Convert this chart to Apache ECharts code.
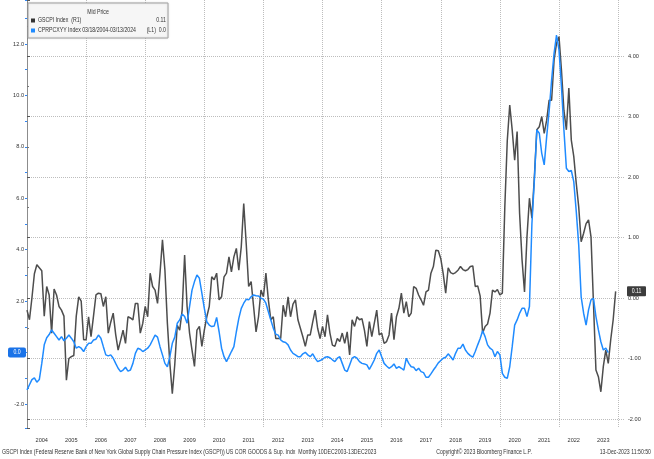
<!DOCTYPE html>
<html>
<head>
<meta charset="utf-8">
<script src="https://cdn.jsdelivr.net/npm/echarts@6/dist/echarts.min.js"></script>
<style>
  html, body { margin: 0; padding: 0; background: #fff; }
  #chart { width: 654px; height: 459px; }
</style>
</head>
<body>
<div id="chart"></div>
<script>
// monthly points, index 0 = Dec 2003 (month end)
const gscpi = [
  -0.20, -0.36, 0.00, 0.40, 0.55, 0.50, 0.45, -0.30, 0.19, 0.05,
  -0.58, 0.15, 0.05, -0.14, -0.20, -0.30, -1.36, -1.00, -0.97, -0.95,
  -0.30, 0.02, -0.05, -0.69, -0.69, -0.31, -0.64, -0.30, 0.05, 0.08,
  0.07, -0.14, 0.02, -0.58, -0.40, -0.25, -0.60, -0.86, -0.70, -0.53,
  -0.75, -0.31, -0.33, -0.36, -0.09, -0.09, -0.58, -0.42, -0.14, -0.31,
  0.41, 0.19, 0.13, -0.09, 0.41, 0.96, 0.46, -0.42, -1.08, -1.58,
  -1.10, -0.45, -0.53, -0.20, 0.71, -0.14, -0.58, -0.86, -1.13, -0.53,
  -0.47, -0.80, -0.53, -0.31, -0.14, 0.35, 0.30, 0.41, -0.03, 0.02,
  0.35, 0.41, 0.68, 0.43, 0.68, 0.82, 0.46, 0.85, 1.56, 0.90,
  0.19, 0.27, -0.14, -0.56, -0.31, 0.13, 0.02, 0.41, -0.03, -0.36,
  -0.31, -0.67, -0.67, -0.67, -0.12, -0.31, 0.02, -0.31, -0.10, -0.03,
  -0.36, -0.50, -0.64, -0.80, -0.61, -0.61, -0.40, -0.20, -0.50, -0.67,
  -0.47, -0.64, -0.28, -0.58, -0.78, -0.80, -0.67, -0.72, -0.58, -0.75,
  -0.56, -0.94, -0.36, -0.47, -0.31, -0.36, -0.34, -0.53, -0.80, -0.39,
  -0.64, -0.42, -0.20, -0.61, -0.58, -0.75, -0.72, -0.61, -0.25, -0.69,
  -0.31, -0.17, 0.08, -0.25, -0.06, -0.31, -0.25, 0.19, 0.16, 0.05,
  -0.03, -0.12, 0.10, 0.13, 0.41, 0.52, 0.79, 0.78, 0.65, 0.40,
  0.08, 0.50, 0.42, 0.40, 0.42, 0.46, 0.52, 0.47, 0.45, 0.47,
  0.52, 0.53, 0.19, 0.20, 0.03, -0.58, -0.47, -0.43, -0.25, 0.13,
  0.10, 0.14, 0.05, 0.08, 1.50, 2.60, 3.19, 2.78, 2.28, 2.75,
  1.40, 0.63, 0.10, 1.01, 1.65, 1.32, 2.00, 2.78, 2.83, 3.00,
  2.72, 2.94, 3.27, 3.27, 3.93, 4.21, 4.32, 3.77, 3.10, 2.78,
  3.47, 2.61, 2.34, 1.90, 1.51, 0.93, 1.07, 1.23, 1.29, 1.01,
  -0.09, -1.19, -1.30, -1.55, -1.13, -0.86, -1.08, -0.69, -0.36, 0.11
];

// core goods CPI YoY, same month grid (series starts 3 months later on screen)
const coreGoods = [
  -1.45, -1.25, -1.05, -0.98, -1.15, -1.05, -0.42, 0.30, 0.58, 0.70,
  0.88, 0.75, 0.62, 0.49, 0.62, 0.46, 0.56, 0.68, 0.56, 0.42,
  0.17, 0.23, 0.17, 0.04, 0.23, 0.36, 0.36, 0.49, 0.52, 0.68,
  0.56, 0.23, -0.09, -0.13, -0.09, -0.22, -0.42, -0.61, -0.74, -0.68,
  -0.57, -0.72, -0.68, -0.42, -0.03, 0.17, 0.13, 0.04, 0.10, 0.17,
  0.30, 0.49, 0.68, 0.60, 0.23, -0.09, -0.42, -0.55, -0.16, 0.36,
  0.60, 1.14, 1.27, 1.50, 1.40, 1.14, 1.79, 2.43, 2.76, 3.02,
  2.89, 2.31, 1.72, 1.20, 1.07, 1.01, 1.03, 1.37, 0.81, 0.17,
  -0.16, -0.35, -0.16, 0.04, 0.23, 0.81, 1.33, 1.72, 1.92, 2.07,
  2.05, 2.17, 2.24, 2.21, 2.20, 2.11, 2.08, 1.92, 1.59, 1.27,
  0.95, 0.71, 0.68, 0.49, 0.42, 0.39, 0.30, 0.10, -0.03, -0.09,
  -0.16, -0.16, -0.05, 0.01, -0.09, -0.16, -0.05, -0.22, -0.35, -0.31,
  -0.26, -0.18, -0.16, -0.20, -0.28, -0.35, -0.22, -0.16, -0.42, -0.68,
  -0.74, -0.48, -0.22, -0.16, -0.22, -0.35, -0.42, -0.44, -0.48, -0.65,
  -0.48, -0.29, -0.03, 0.10, -0.16, -0.42, -0.52, -0.61, -0.55, -0.44,
  -0.61, -0.55, -0.61, -0.68, -0.22, -0.42, -0.55, -0.57, -0.70, -0.61,
  -0.74, -0.78, -0.96, -0.96, -0.83, -0.68, -0.55, -0.40, -0.31, -0.22,
  -0.18, -0.05, -0.16, -0.29, -0.03, 0.17, 0.17, 0.33, 0.10, -0.03,
  -0.12, -0.18, 0.04, 0.30, 0.55, 0.85, 0.62, 0.30, 0.17, 0.10,
  -0.16, 0.04, -0.09, -0.81, -0.96, -1.00, -0.55, 0.23, 1.07, 1.27,
  1.53, 1.72, 1.72, 1.40, 1.79, 5.00, 6.70, 8.66, 8.53, 7.75,
  7.30, 8.40, 9.40, 10.60, 11.64, 12.35, 11.77, 10.34, 8.66, 7.17,
  7.04, 7.08, 6.65, 5.50, 4.20, 2.17, 1.53, 1.07, 1.66, 2.05,
  2.11, 1.40, 0.88, 0.42, 0.10, 0.17, 0.00
];

const yearLabels = ['2004', '2005', '2006', '2007', '2008', '2009', '2010', '2011', '2012', '2013',
  '2014', '2015', '2016', '2017', '2018', '2019', '2020', '2021', '2022', '2023'];

const lastGscpi = '0.11';
const lastCore = '0.0';

const FONT = "'Liberation Sans', Arial, sans-serif";
const BLUE = '#1f8bff';
const GREY = '#4d4d4d';
const NARROW = 0.8; // terminal font is condensed

// axis extents chosen so the plot fills the frame like the terminal screen
const X_MAX = 242.8;
const L_MIN = -2.933, L_MAX = 13.711;
const R_MIN = -2.149, R_MAX = 4.926;

const chart = echarts.init(document.getElementById('chart'), null, { renderer: 'canvas' });

const isMult = (v, step) => {
  const r = Math.round(v / step);
  return Math.abs(v - r * step) < 1e-6;
};

chart.setOption({
  animation: false,
  textStyle: { fontFamily: FONT },
  grid: { left: 27, right: 29, top: 0, bottom: 31 },
  xAxis: [
    {
      type: 'value', min: 0, max: X_MAX, interval: 12,
      axisLine: { show: false }, axisTick: { show: false }, splitLine: { show: false },
      axisLabel: {
        fontFamily: FONT, fontSize: 5.6, color: '#333', margin: 9,
        padding: [0, 0, 0, 29.5],
        formatter: (v) => (isMult(v, 12) && yearLabels[Math.round(v / 12)]) || ''
      }
    },
    {
      type: 'value', min: 0, max: X_MAX, interval: 24,
      axisLine: { show: false }, axisTick: { show: false }, axisLabel: { show: false },
      splitLine: {
        show: true, showMinLine: false, showMaxLine: false,
        lineStyle: { type: 'dotted', color: '#bdbdbd', width: 1 }
      }
    }
  ],
  yAxis: [
    {
      type: 'value', position: 'left', min: L_MIN, max: L_MAX, splitNumber: 8,
      axisLine: { show: true, lineStyle: { color: '#a9c9f5', width: 1 } },
      axisTick: { show: true, length: 2, lineStyle: { color: '#2f86f6' } },
      minorTick: { show: true, splitNumber: 2, length: 2, lineStyle: { color: '#2f86f6' } },
      splitLine: { show: false },
      axisLabel: {
        fontFamily: FONT, fontSize: 5.6, color: '#333', margin: 3,
        formatter: (v) => (isMult(v, 2) ? v.toFixed(1) : '')
      }
    },
    {
      type: 'value', position: 'right', min: R_MIN, max: R_MAX, splitNumber: 7,
      axisLine: { show: true, lineStyle: { color: '#8c8c8c', width: 1 } },
      axisTick: { show: true, length: 3, lineStyle: { color: '#555' } },
      minorTick: { show: true, splitNumber: 2, length: 2, lineStyle: { color: '#777' } },
      splitLine: {
        show: true, showMinLine: false, showMaxLine: false,
        lineStyle: { type: 'dotted', color: '#bdbdbd', width: 1 }
      },
      axisLabel: {
        fontFamily: FONT, fontSize: 5.6, color: '#333', margin: 3,
        formatter: (v) => (isMult(v, 1) ? v.toFixed(2) : '')
      }
    }
  ],
  series: [
    {
      name: 'GSCPI Index', type: 'line', xAxisIndex: 0, yAxisIndex: 1,
      data: gscpi.map((v, i) => [i, v]),
      symbol: 'none', lineStyle: { color: GREY, width: 1.5 }, z: 2
    },
    {
      name: 'CPRPCXYY Index', type: 'line', xAxisIndex: 0, yAxisIndex: 0,
      data: coreGoods.map((v, i) => [i, v]),
      symbol: 'none', lineStyle: { color: BLUE, width: 1.5 }, z: 3
    }
  ]
});

// last-value tags sit on the axes at the series' latest value
const yLeft = chart.convertToPixel({ yAxisIndex: 0 }, coreGoods[coreGoods.length - 1]);
const yRight = chart.convertToPixel({ yAxisIndex: 1 }, gscpi[gscpi.length - 1]);

const txt = (x, y, text, extra, z) => ({
  type: 'text', x, y, scaleX: NARROW, silent: true, z: z || 1,
  style: Object.assign({ text, fontFamily: FONT, fontSize: 6.5, fill: '#333', verticalAlign: 'middle' }, extra)
});

chart.setOption({
  graphic: [
    // legend box
    { type: 'rect', shape: { x: 28, y: 3, width: 140, height: 35 },
      style: { fill: '#f6f6f6', stroke: '#a5a5a5', lineWidth: 1, shadowBlur: 2, shadowColor: 'rgba(0,0,0,0.15)' }, z: 10 },
    txt(98, 12, 'Mid Price', { align: 'center' }, 11),
    { type: 'rect', shape: { x: 31, y: 18.5, width: 4, height: 4 }, style: { fill: '#333' }, z: 11 },
    txt(38, 20.5, 'GSCPI Index  (R1)', null, 11),
    txt(166, 20.5, lastGscpi, { align: 'right' }, 11),
    { type: 'rect', shape: { x: 31, y: 28.5, width: 4, height: 4 }, style: { fill: BLUE }, z: 11 },
    txt(38, 30.5, 'CPRPCXYY Index 03/18/2004-03/13/2024', null, 11),
    txt(166, 30.5, '(L1)  ' + lastCore, { align: 'right' }, 11),

    // value tags
    { type: 'rect', shape: { x: 8, y: yLeft - 5, width: 18, height: 10, r: 2 }, style: { fill: '#1a73e8' }, z: 12 },
    txt(17, yLeft, lastCore, { align: 'center', fill: '#fff' }, 13),
    { type: 'rect', shape: { x: 627, y: yRight - 5, width: 19, height: 10, r: 1 }, style: { fill: '#3c3c3c' }, z: 12 },
    txt(636.5, yRight, lastGscpi, { align: 'center', fill: '#fff' }, 13),

    // footer
    txt(2, 452, 'GSCPI Index (Federal Reserve Bank of New York Global Supply Chain Pressure Index (GSCPI)) US COR GOODS & Sup. Indx  Monthly 10DEC2003-13DEC2023'),
    txt(484, 452, 'Copyright\u00a9 2023 Bloomberg Finance L.P.', { align: 'center' }),
    txt(651, 452, '13-Dec-2023 11:50:50', { align: 'right' })
  ]
});
</script>
</body>
</html>
